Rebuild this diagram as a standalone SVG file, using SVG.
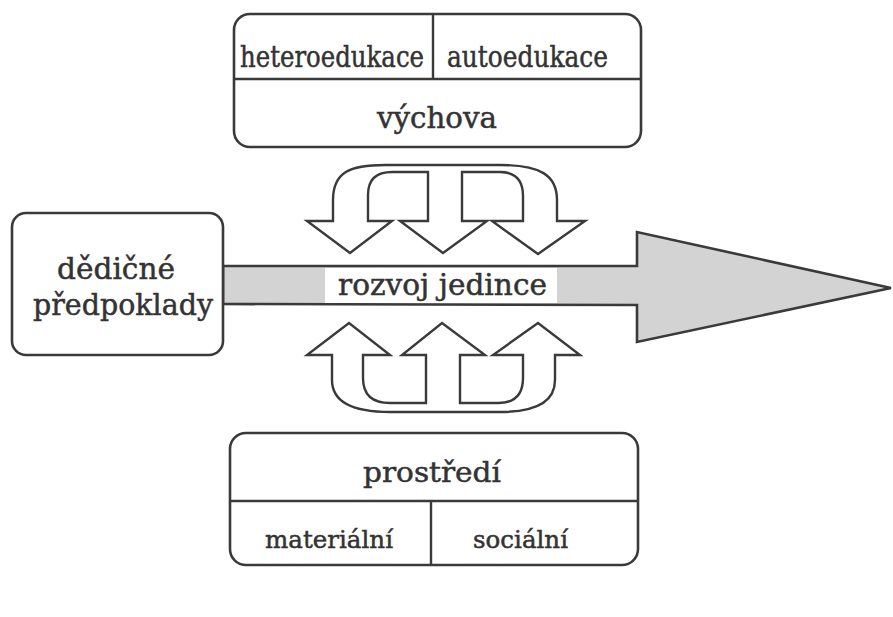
<svg xmlns="http://www.w3.org/2000/svg" width="893" height="617" viewBox="0 0 893 617">
<style>
.box{fill:#fff;stroke:#3a3a3a;stroke-width:2.6}
.ln{stroke:#3a3a3a;stroke-width:2.4;fill:none}
.arr{fill:#fff;stroke:#3a3a3a;stroke-width:2.4;stroke-linejoin:miter}
.big{fill:#d3d3d3;stroke:#3a3a3a;stroke-width:2.6;stroke-linejoin:miter}
text{font-family:"DejaVu Serif","Liberation Serif",serif;fill:#333;stroke:#333;stroke-width:0.5}
.s{font-size:29px}
.m{font-size:28px}
.t{font-size:25px}
.l{font-size:30px}
</style>
<rect width="893" height="617" fill="#fff"/>
<g id="connectors">
  <path class="big" d="M223,266 L637,266 L637,232 L891,288 L637,342 L637,305 L223,304 Z"/>
  <rect x="325" y="268" width="232" height="35" fill="#fff"/>
  <path class="arr" d="M333,221 L307,221 L350,253 L392,221 L368,221 L368,195 Q368,172 392,172 L428,172 L428,221 L400,221 L443,253 L487,221 L462,221 L462,172 L500,172 Q523,172 523,196 L523,221 L492,221 L538,254 L585,221 L557,221 L557,200 C557,175 540,165 500,165 L385,165 C350,165 333,172 333,200 Z"/>
  <path class="arr" d="M332,355 L307,355 L349,323 L390,355 L363,355 L363,378 Q363,403 390,403 L426,403 L426,355 L402,355 L442,323 L485,355 L460,355 L460,403 L498,403 Q523,403 523,378 L523,355 L493,355 L538,323 L580,355 L555,355 L555,380 C555,402 535,412 500,412 L390,412 C352,412 332,402 332,380 Z"/>
</g>
<g id="rozvoj">
  <text class="s" x="338" y="295" textLength="209" lengthAdjust="spacingAndGlyphs">rozvoj jedince</text>
</g>
<g id="vychova">
  <rect class="box" x="234" y="14" width="407" height="133" rx="16"/>
  <line class="ln" x1="234" y1="79" x2="641" y2="79"/>
  <line class="ln" x1="433" y1="14" x2="433" y2="79"/>
  <text class="s" x="240" y="67" textLength="184" lengthAdjust="spacingAndGlyphs">heteroedukace</text>
  <text class="s" x="447" y="67" textLength="161" lengthAdjust="spacingAndGlyphs">autoedukace</text>
  <text class="s" x="377" y="128" textLength="120" lengthAdjust="spacingAndGlyphs">výchova</text>
</g>
<g id="dedicne">
  <rect class="box" x="12" y="213" width="211" height="142" rx="14"/>
  <text class="l" x="57" y="279" textLength="118" lengthAdjust="spacingAndGlyphs">dědičné</text>
  <text class="l" x="33" y="315" textLength="180" lengthAdjust="spacingAndGlyphs">předpoklady</text>
</g>
<g id="prostredi">
  <rect class="box" x="230" y="433" width="408" height="132" rx="16"/>
  <line class="ln" x1="230" y1="501" x2="638" y2="501"/>
  <line class="ln" x1="431" y1="501" x2="431" y2="565"/>
  <text class="m" x="363" y="482" textLength="138" lengthAdjust="spacingAndGlyphs">prostředí</text>
  <text class="t" x="265" y="548" textLength="128" lengthAdjust="spacingAndGlyphs">materiální</text>
  <text class="t" x="473" y="548" textLength="95" lengthAdjust="spacingAndGlyphs">sociální</text>
</g>
</svg>
